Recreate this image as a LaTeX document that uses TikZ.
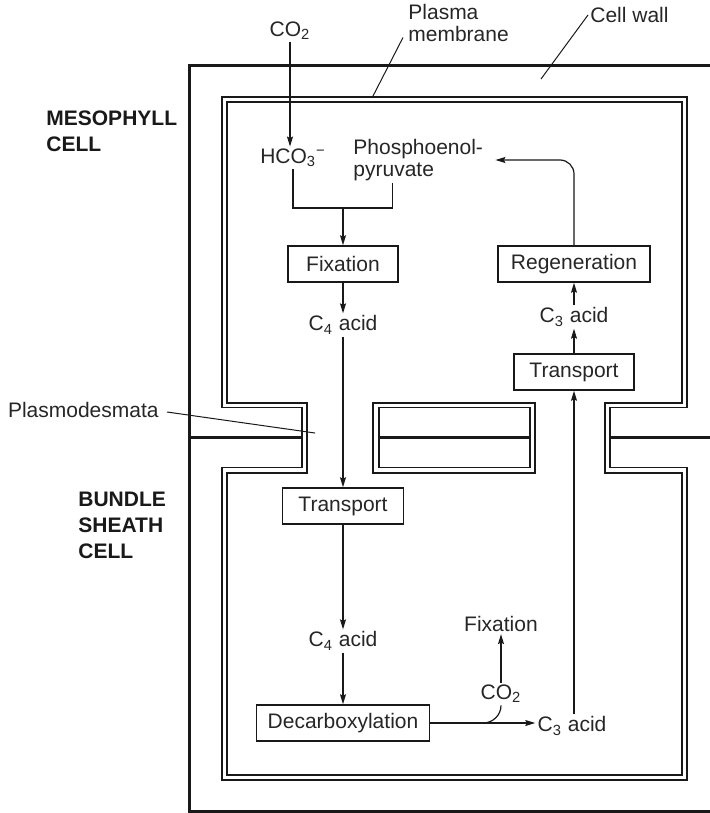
\documentclass[tikz,border=0pt]{standalone}
\usepackage{fontspec}
\setmainfont{Liberation Sans}
\usepackage{tikz}
\usetikzlibrary{positioning}
\usetikzlibrary{arrows.meta}

\newcommand{\diagfont}{\fontsize{10.5}{11}\selectfont}
\newcommand{\cellfont}{\fontsize{10.5}{13}\selectfont\bfseries}

\begin{document}
\begin{tikzpicture}[
				x=0.5pt, y=-0.5pt,
				procbox/.style={rectangle, draw=black!90, line width=0.8pt, minimum height=18pt, inner sep=0pt, font=\diagfont, text=black!85},
				chem/.style={inner sep=1pt, font=\diagfont, text=black!85},
				celllabel/.style={inner sep=0pt, font=\cellfont, text=black!90, align=left, anchor=north west},
				arrow/.style={-{Stealth[length=5pt, width=3pt, inset=0.8pt]}, line width=0.6pt, draw=black!90},
				flow/.style={line width=0.6pt, draw=black!90},
				leader/.style={line width=0.5pt, draw=black!90},
				wall/.style={line width=1.5pt, draw=black!90},
				membin/.style={line width=1.3pt, draw=black!90},
				membout/.style={line width=0.7pt, draw=black!90}
			]
			\useasboundingbox (0,0) rectangle (710,813);

			% cell wall
			\draw[wall] (710,66) -| (189,811) -- (710,811);
			\draw[wall] (189,437) -- (302,437);
			\draw[wall] (379,437) -- (530,437);
			\draw[wall] (610,437) -- (710,437);

			% plasma membrane, cytoplasm side and wall side
			\draw[membin] (227,403) -- (227,102) -- (682,102) -- (682,403) -- (605,403) -- (605,473) -- (682,473) -- (682,775)
				-- (227,775) -- (227,473) -- (307,473) -- (307,403) -- cycle;
			\draw[membin] (373,403) rectangle (535,473);
			\draw[membout] (222,407.5) -- (222,97) -- (687,97) -- (687,407.5) -- (610,407.5) -- (610,467.5) -- (687,467.5) -- (687,780)
				-- (222,780) -- (222,467.5) -- (302,467.5) -- (302,407.5) -- cycle;
			\draw[membout] (379,407.5) rectangle (530,467.5);

			\node[celllabel] (meso) at (46,110) {MESOPHYLL\\CELL};
			\node[celllabel] (bundle) at (78,491.5) {BUNDLE\\SHEATH\\CELL};
			\node[chem, inner sep=0pt, align=left, anchor=south west] (plasma) at (408,42.5) {Plasma\\membrane};
			\node[chem, inner sep=0pt, anchor=west] (cwall) at (590,15) {Cell wall};
			\node[chem, anchor=east] (plasmo) at (161,410) {Plasmodesmata};
			\coordinate (pmtip) at (372,98);
			\coordinate (cwtip) at (541,79);
			\coordinate (pdtip) at (315,433);

			% mesophyll cell
			\node[chem] (co2in) at (290,31) {CO\textsubscript{2}};
			\node[chem] (hco) at (293,158) {HCO\textsubscript{3}\textsuperscript{−}};
			\node[chem, align=left, anchor=west] (pep) at (351,160) {Phosphoenol-\\pyruvate};
			\coordinate (join) at (343,208);
			\node[procbox, minimum width=55pt] (fix) at (343,264) {Fixation};
			\node[chem] (cfour) at (343,325) {C\textsubscript{4} acid};
			\node[procbox, minimum width=76pt] (regen) at (574,264) {Regeneration};
			\node[chem] (cthreeb) at (574,317) {C\textsubscript{3} acid};
			\node[procbox, minimum width=60pt] (transb) at (574,372) {Transport};

			% bundle sheath cell
			\node[procbox, minimum width=60.5pt] (trans) at (343,506) {Transport};
			\node[chem] (cfourb) at (343,641) {C\textsubscript{4} acid};
			\node[procbox, minimum width=86.5pt] (decarb) at (343,723) {Decarboxylation};
			\node[chem] (cthree) at (572,726) {C\textsubscript{3} acid};
			\node[chem] (co2out) at (501,694) {CO\textsubscript{2}};
			\node[chem] (refix) at (501,624) {Fixation};
			\coordinate (split) at (483,723);

			\draw[leader] ([xshift=-2.5pt,yshift=2.5pt]plasma.south west) -- (pmtip);
			\draw[leader] ([xshift=-1pt]cwall.west) -- (cwtip);
			\draw[leader] ([xshift=3pt,yshift=-1pt]plasmo.east) -- (pdtip);

			\draw[arrow] (co2in) -- (co2in |- hco.north);
			\draw[flow] (hco.south) |- (join) -| ([xshift=-13pt]pep.south);
			\draw[arrow] (join) -- (fix);
			\draw[arrow] (fix) -- (cfour);
			\draw[arrow] (cfour) -- (trans);
			\draw[arrow] (trans) -- (cfourb);
			\draw[arrow] (cfourb) -- (decarb);
			\draw[arrow] (decarb) -- (decarb -| cthree.west);
			\draw[flow] (split) to[out=0, in=-90] (co2out.south);
			\draw[arrow] (co2out) -- (refix);
			\draw[arrow] (transb.south |- cthree.north) -- (transb.south);
			\draw[arrow] (transb) -- (cthreeb);
			\draw[arrow] (cthreeb) -- (regen);
			\draw[arrow, rounded corners=7pt] (regen.north) |- ([xshift=5pt]pep.east);

		\end{tikzpicture}
\end{document}
